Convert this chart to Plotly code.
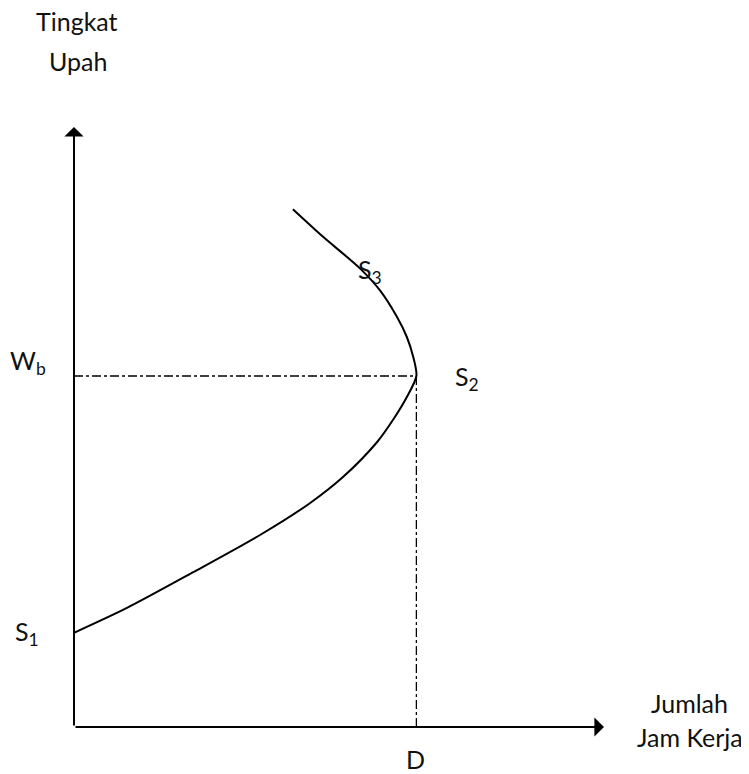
import plotly.graph_objects as go

# Backward-bending labour supply curve (0-100 scale)
curve_x = [0, 9.9, 22.5, 35.1, 44.5, 50.8, 57.2, 60.2, 62.8, 64.6,
           64.0, 62.8, 60.9, 57.7, 54.0, 47.0, 41.3]
curve_y = [15.7, 19.8, 25.8, 32.0, 37.3, 41.7, 47.5, 51.2, 55.0, 58.5,
           61.7, 65.0, 68.4, 72.8, 76.4, 81.7, 86.3]

wage_b = 58.5      # W_b level
hours_d = 64.6     # D position

font = dict(family="Lato, Open Sans, sans-serif", size=25, color="#111")

fig = go.Figure()

fig.add_trace(go.Scatter(
    x=curve_x, y=curve_y, mode="lines",
    line=dict(color="black", width=2, shape="spline", smoothing=0.8),
    hoverinfo="skip"
))

# dash-dot guides
fig.add_trace(go.Scatter(
    x=[0, hours_d], y=[wage_b, wage_b], mode="lines",
    line=dict(color="black", width=1.3, dash="dashdot"), hoverinfo="skip"
))
fig.add_trace(go.Scatter(
    x=[hours_d, hours_d], y=[0, wage_b], mode="lines",
    line=dict(color="black", width=1.3, dash="dashdot"), hoverinfo="skip"
))

# axes with arrowheads
arrow = dict(showarrow=True, arrowhead=1, arrowsize=1.6, arrowwidth=2,
             arrowcolor="black", axref="x", ayref="y", text="")
fig.add_annotation(x=0, y=100, ax=0, ay=0, **arrow)
fig.add_annotation(x=100, y=0, ax=0, ay=0, **arrow)

# labels, positions in the same 0-100 units (placed via paper coords)
labels = [
    ("Tingkat", 0.6, 117.7),
    ("Upah", 0.75, 111.0),
    ("W<sub>b</sub>", -8.7, 60.8),
    ("S<sub>1</sub>", -8.9, 15.6),
    ("S<sub>3</sub>", 55.8, 76.0),
    ("S<sub>2</sub>", 74.2, 58.1),
    ("D", 64.5, -5.3),
    ("Jumlah", 116.2, 4.0),
    ("Jam Kerja", 116.2, -1.7),
]
for txt, lx, ly in labels:
    fig.add_annotation(x=lx / 100, y=ly / 100, xref="paper", yref="paper",
                       text=txt, showarrow=False,
                       xanchor="center", yanchor="middle", font=font)

# page body has an 8px margin, so the figure is shrunk and margins shifted
fig.update_layout(
    width=741, height=766,
    margin=dict(l=66, r=145, t=119, b=47),
    plot_bgcolor="white", paper_bgcolor="white",
    showlegend=False,
    xaxis=dict(range=[0, 100], visible=False, fixedrange=True),
    yaxis=dict(range=[0, 100], visible=False, fixedrange=True),
)

fig.write_html("out.html")
